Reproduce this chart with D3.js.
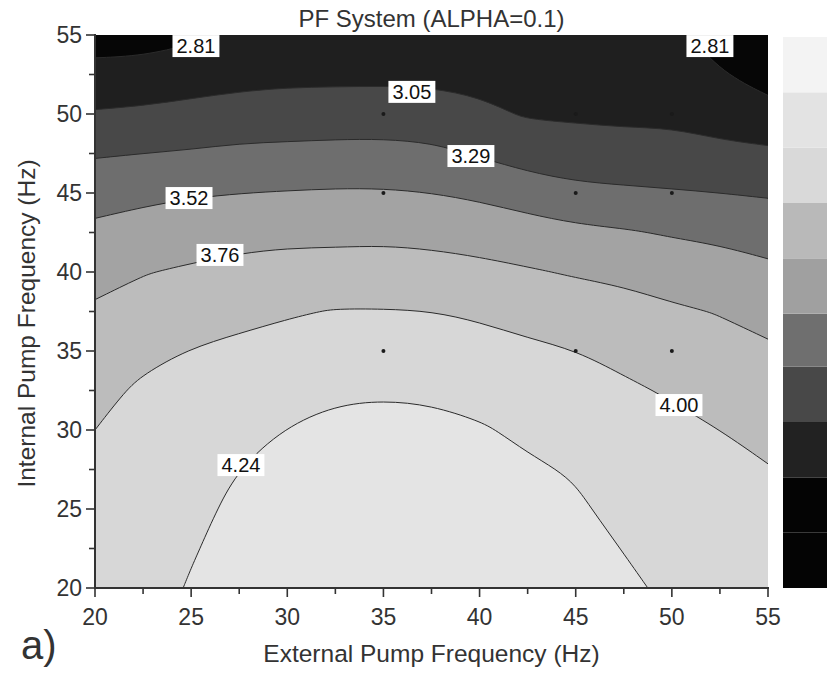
<!DOCTYPE html>
<html>
<head>
<meta charset="utf-8">
<script src="https://cdn.jsdelivr.net/npm/d3@7"></script>
<style>
  body { margin: 0; background: #fff; }
  text { font-family: "Liberation Sans", Arial, sans-serif; }
</style>
</head>
<body>
<div id="chart"></div>
<script>
// grid of the surface
// columns = External Pump Frequency (Hz), rows = Internal Pump Frequency (Hz), top row first
var gridX = [20, 22.5, 25, 27.5, 30, 32.5, 35, 37.5, 40, 42.5, 45, 47.5, 50, 52.5, 55];
var gridY = [55, 52.5, 50, 47.5, 45, 42.5, 40, 37.5, 35, 32.5, 30, 27.5, 25, 22.5, 20];
var zRows = [
  [2.70, 2.71, 2.77, 2.85, 2.88, 2.89, 2.89, 2.89, 2.88, 2.88, 2.88, 2.88, 2.87, 2.70, 2.61],
  [2.89, 2.90, 2.94, 2.98, 3.00, 3.00, 3.00, 3.00, 2.98, 2.96, 2.95, 2.95, 2.94, 2.82, 2.72],
  [3.07, 3.09, 3.12, 3.14, 3.15, 3.16, 3.17, 3.15, 3.10, 3.03, 3.02, 3.01, 3.01, 2.96, 2.89],
  [3.27, 3.29, 3.31, 3.34, 3.35, 3.36, 3.36, 3.34, 3.27, 3.19, 3.15, 3.13, 3.12, 3.10, 3.09],
  [3.43, 3.47, 3.50, 3.518, 3.53, 3.54, 3.54, 3.52, 3.48, 3.41, 3.35, 3.33, 3.31, 3.29, 3.27],
  [3.57, 3.61, 3.65, 3.68, 3.70, 3.70, 3.71, 3.69, 3.66, 3.62, 3.57, 3.54, 3.50, 3.47, 3.42],
  [3.69, 3.75, 3.79, 3.83, 3.85, 3.86, 3.86, 3.85, 3.82, 3.78, 3.74, 3.71, 3.66, 3.62, 3.57],
  [3.79, 3.85, 3.90, 3.95, 3.98, 4.01, 4.01, 4.001, 3.97, 3.92, 3.88, 3.84, 3.79, 3.75, 3.69],
  [3.86, 3.94, 4.01, 4.04, 4.08, 4.11, 4.12, 4.11, 4.08, 4.04, 4.002, 3.95, 3.89, 3.83, 3.79],
  [3.93, 4.04, 4.06, 4.11, 4.17, 4.21, 4.22, 4.21, 4.17, 4.12, 4.07, 4.03, 3.98, 3.92, 3.87],
  [4.00, 4.07, 4.10, 4.17, 4.25, 4.29, 4.30, 4.29, 4.26, 4.20, 4.14, 4.08, 4.05, 4.00, 3.94],
  [4.04, 4.09, 4.14, 4.242, 4.31, 4.35, 4.36, 4.35, 4.32, 4.27, 4.22, 4.13, 4.09, 4.04, 4.01],
  [4.07, 4.11, 4.18, 4.29, 4.35, 4.39, 4.40, 4.39, 4.36, 4.31, 4.27, 4.18, 4.13, 4.08, 4.05],
  [4.09, 4.12, 4.22, 4.33, 4.38, 4.42, 4.43, 4.42, 4.39, 4.34, 4.29, 4.235, 4.17, 4.11, 4.08],
  [4.11, 4.14, 4.26, 4.35, 4.40, 4.44, 4.45, 4.44, 4.41, 4.36, 4.31, 4.28, 4.20, 4.14, 4.10]
];

var levels = [2.81, 3.05, 3.29, 3.52, 3.76, 4.00, 4.24];
// fill below the first level, then above each level
var bandColors = ["#060606", "#1f1f1f", "#484848", "#6e6e6e", "#a3a3a3", "#bcbcbc", "#d7d7d7", "#e4e4e4"];

// contour labels
var labelText = ["2.81", "2.81", "3.05", "3.29", "3.52", "3.76", "4.00", "4.24"];
var labelX = [25.25, 51.98, 36.48, 39.55, 24.89, 26.5, 50.37, 27.59];
var labelY = [54.3, 54.3, 51.4, 47.34, 44.68, 41.08, 31.58, 27.78];

// measured points
var pointX = [35, 45, 50, 35, 45, 50, 35, 45, 50];
var pointY = [50, 50, 50, 45, 45, 45, 35, 35, 35];

var xTicks = [20, 25, 30, 35, 40, 45, 50, 55];
var yTicks = [20, 25, 30, 35, 40, 45, 50, 55];

// colour scale bar, bottom band first
var barLevels = [2.33, 2.57, 2.81, 3.05, 3.29, 3.52, 3.76, 4.00, 4.24, 4.48, 4.72];
var barColors = ["#040404", "#040404", "#222222", "#484848", "#6f6f6f", "#a0a0a0", "#b9b9b9", "#d9d9d9", "#e3e3e3", "#f3f3f3"];

var W = 827, H = 675;
var pL = 95, pR = 768, pT = 35, pB = 588;

var svg = d3.select("#chart")
  .append("svg")
  .attr("width", W)
  .attr("height", H);

var x = d3.scaleLinear().domain([20, 55]).range([pL, pR]);
var y = d3.scaleLinear().domain([20, 55]).range([pB, pT]);

svg.append("clipPath")
  .attr("id", "plotclip")
  .append("rect")
  .attr("x", pL).attr("y", pT)
  .attr("width", pR - pL).attr("height", pB - pT);

var plot = svg.append("g").attr("clip-path", "url(#plotclip)");

plot.append("rect")
  .attr("x", pL).attr("y", pT)
  .attr("width", pR - pL).attr("height", pB - pT)
  .attr("fill", bandColors[0]);

var values = [];
zRows.forEach(function(r) { values = values.concat(r); });

var nx = gridX.length, ny = gridY.length;
var contours = d3.contours()
  .size([nx, ny])
  .thresholds(levels)(values);

// grid index -> pixel
var dx = gridX[1] - gridX[0], dy = gridY[1] - gridY[0];
function toPix(p) {
  return [x(gridX[0] + (p[0] - 0.5) * dx), y(gridY[0] + (p[1] - 0.5) * dy)];
}
function onBorder(p) {
  return p[0] === 0 || p[0] === nx || p[1] === 0 || p[1] === ny;
}

// vertices closer than a few pixels are merged so the spline has no sharp bends
function thin(run) {
  var out = [];
  run.forEach(function(q, i) {
    var last = out[out.length - 1];
    var keepEnd = (i === 0 || i === run.length - 1);
    if (last && !keepEnd && Math.hypot(q[0] - last[0], q[1] - last[1]) < 12) {
      if (out.length > 1) out[out.length - 1] = [(q[0] + last[0]) / 2, (q[1] + last[1]) / 2];
      return;
    }
    out.push(q);
  });
  return out;
}

// isoline runs are drawn as smooth b-splines, the parts on the grid border stay straight
function ringPath(ctx, ring) {
  var pts = ring.slice(0, -1);
  var start = -1;
  for (var k = 0; k < pts.length; k++) { if (onBorder(pts[k])) { start = k; break; } }
  if (start < 0) {
    d3.line().curve(d3.curveBasisClosed).context(ctx)(thin(pts.map(toPix)));
    return;
  }
  pts = pts.slice(start).concat(pts.slice(0, start));
  var p0 = toPix(pts[0]);
  ctx.moveTo(p0[0], p0[1]);
  var run = [];
  function flush() {
    if (run.length === 0) return;
    run = thin(run);
    if (run.length < 3) {
      run.forEach(function(q) { ctx.lineTo(q[0], q[1]); });
    } else {
      var wrap = {
        moveTo: function(a, b) { ctx.lineTo(a, b); },
        lineTo: function(a, b) { ctx.lineTo(a, b); },
        bezierCurveTo: function(a, b, c, d, e, f) { ctx.bezierCurveTo(a, b, c, d, e, f); },
        closePath: function() {}
      };
      d3.line().curve(d3.curveBasis).context(wrap)(run);
    }
    run = [];
  }
  for (var i = 1; i < pts.length; i++) {
    var q = toPix(pts[i]);
    if (onBorder(pts[i])) {
      flush();
      ctx.lineTo(q[0], q[1]);
    } else {
      run.push(q);
    }
  }
  flush();
  ctx.closePath();
}
function contourPath(mp) {
  var ctx = d3.path();
  mp.coordinates.forEach(function(poly) {
    poly.forEach(function(ring) { ringPath(ctx, ring); });
  });
  return ctx.toString();
}

plot.selectAll("path.band")
  .data(contours)
  .enter().append("path")
  .attr("class", "band")
  .attr("d", contourPath)
  .attr("fill-rule", "evenodd")
  .attr("fill", function(d, i) { return bandColors[i + 1]; })
  .attr("stroke", "#2b2b2b")
  .attr("stroke-width", 1);

// measured points
plot.selectAll("circle")
  .data(pointX)
  .enter().append("circle")
  .attr("cx", function(d) { return x(d); })
  .attr("cy", function(d, i) { return y(pointY[i]); })
  .attr("r", 2)
  .attr("fill", "#1a1a1a");

// contour labels
var lab = svg.append("g");
labelText.forEach(function(t, i) {
  var g = lab.append("g");
  var rc = g.append("rect").attr("fill", "#fff");
  var tx = g.append("text")
    .attr("x", x(labelX[i]))
    .attr("y", y(labelY[i]))
    .attr("dy", "0.36em")
    .attr("text-anchor", "middle")
    .attr("font-size", 20)
    .attr("fill", "#111")
    .text(t);
  var w = tx.node().getComputedTextLength();
  rc.attr("x", x(labelX[i]) - w / 2 - 4)
    .attr("y", y(labelY[i]) - 11)
    .attr("width", w + 8)
    .attr("height", 22);
});

// axes
var xAxis = svg.append("g")
  .attr("transform", "translate(0," + pB + ")");
var yAxis = svg.append("g")
  .attr("transform", "translate(" + pL + ",0)");

var minor = d3.range(20, 55.01, 2.5);
xAxis.selectAll("line.tick")
  .data(minor)
  .enter().append("line")
  .attr("class", "tick")
  .attr("x1", function(d) { return x(d); })
  .attr("x2", function(d) { return x(d); })
  .attr("y1", 0)
  .attr("y2", function(d) { return d % 5 === 0 ? 9 : 6; })
  .attr("stroke", "#333").attr("stroke-width", 1.6);
xAxis.append("line")
  .attr("x1", pL - 1).attr("x2", pR + 1)
  .attr("stroke", "#333").attr("stroke-width", 2);
xAxis.selectAll("text")
  .data(xTicks)
  .enter().append("text")
  .attr("x", function(d) { return x(d); })
  .attr("y", 37)
  .attr("text-anchor", "middle")
  .attr("font-size", 23)
  .attr("fill", "#333")
  .text(function(d) { return d; });

yAxis.selectAll("line.tick")
  .data(minor)
  .enter().append("line")
  .attr("class", "tick")
  .attr("y1", function(d) { return y(d); })
  .attr("y2", function(d) { return y(d); })
  .attr("x1", 0)
  .attr("x2", function(d) { return d % 5 === 0 ? -9 : -6; })
  .attr("stroke", "#333").attr("stroke-width", 1.6);
yAxis.append("line")
  .attr("y1", pT - 1).attr("y2", pB + 1)
  .attr("stroke", "#333").attr("stroke-width", 2);
yAxis.selectAll("text")
  .data(yTicks)
  .enter().append("text")
  .attr("x", -13)
  .attr("y", function(d) { return y(d); })
  .attr("dy", "0.36em")
  .attr("text-anchor", "end")
  .attr("font-size", 23)
  .attr("fill", "#333")
  .text(function(d) { return d; });

// titles
svg.append("text")
  .attr("x", (pL + pR) / 2)
  .attr("y", 27)
  .attr("text-anchor", "middle")
  .attr("font-size", 24)
  .attr("fill", "#333")
  .text("PF System (ALPHA=0.1)");

svg.append("text")
  .attr("x", (pL + pR) / 2)
  .attr("y", 662)
  .attr("text-anchor", "middle")
  .attr("font-size", 24.5)
  .attr("fill", "#333")
  .text("External Pump Frequency (Hz)");

svg.append("text")
  .attr("transform", "translate(35," + ((pT + pB) / 2 + 12) + ") rotate(-90)")
  .attr("text-anchor", "middle")
  .attr("font-size", 24.5)
  .attr("fill", "#333")
  .text("Internal Pump Frequency (Hz)");

svg.append("text")
  .attr("x", 21)
  .attr("y", 659)
  .attr("font-size", 40)
  .attr("fill", "#333")
  .text("a)");

// colour scale bar
var yb = d3.scaleLinear().domain([barLevels[0], barLevels[barLevels.length - 1]]).range([588, 37]);
svg.append("g").selectAll("rect")
  .data(barColors)
  .enter().append("rect")
  .attr("x", 783)
  .attr("width", 50)
  .attr("y", function(d, i) { return yb(barLevels[i + 1]); })
  .attr("height", function(d, i) { return yb(barLevels[i]) - yb(barLevels[i + 1]); })
  .attr("fill", function(d) { return d; });
</script>
</body>
</html>
